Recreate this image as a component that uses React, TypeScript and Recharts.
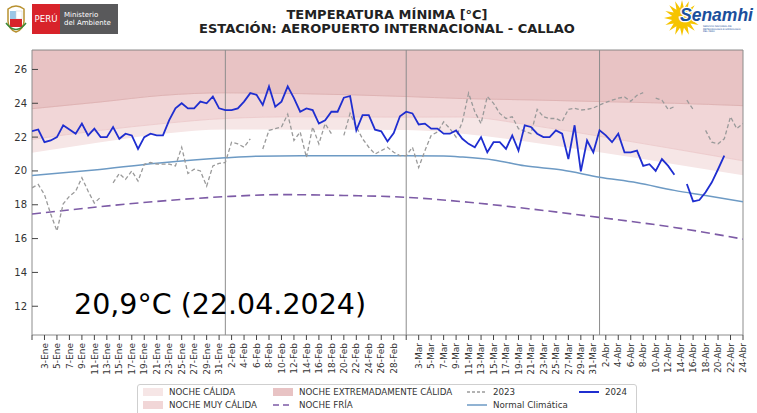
import React from 'react'
import {
  ComposedChart, Area, Line, XAxis, YAxis, ReferenceLine, ReferenceArea,
} from 'recharts'

// calendar shown on the x axis (1-Ene ... 24-Abr 2024)
const MONTHS = ['Ene', 'Feb', 'Mar', 'Abr']
const MONTH_LENGTHS = [31, 29, 31, 24]
const DAY_LABELS: string[] = MONTHS.flatMap((m, k) =>
  Array.from({ length: MONTH_LENGTHS[k] }, (_, j) => `${j + 1}-${m}`))
const DAYS = DAY_LABELS.map((_, i) => i)
const X_TICKS = DAYS.filter(i => i % 2 === 0)
const HIDDEN_TICK_LABELS = [0, 60]
const MONTH_STARTS = [31, 60, 91]

const Y_TICKS = [12, 14, 16, 18, 20, 22, 24, 26]
const Y_MIN = 10.3
const Y_MAX = 27.15

// 2024 minimum temperature
const T2024 = [
  22.35, 22.45, 21.7, 21.8, 22.0, 22.7, 22.45, 22.2, 22.8, 22.1,
  22.5, 22.0, 22.0, 22.6, 21.9, 22.2, 22.1, 21.3, 22.0, 22.2,
  22.1, 22.1, 23.0, 23.7, 24.0, 23.7, 23.7, 24.1, 24.0, 24.4,
  23.7, 23.6, 23.6, 23.7, 24.1, 24.6, 24.5, 23.9, 25.0, 23.8,
  24.1, 25.0, 24.3, 23.5, 23.7, 23.6, 22.8, 23.0, 23.5, 23.5,
  24.33, 24.43, 22.4, 23.3, 23.3, 22.44, 22.34, 21.74, 22.24, 23.23,
  23.5, 23.4, 22.75, 22.8, 22.5, 22.5, 22.2, 22.2, 22.4, 21.9,
  21.6, 21.4, 22.0, 21.1, 21.7, 21.7, 21.3, 22.1, 21.2, 22.7,
  22.6, 22.2, 22.0, 22.0, 22.4, 22.2, 20.7, 22.7, 19.97, 21.8,
  21.1, 22.4, 22.1, 21.7, 22.2, 21.1, 21.1, 21.2, 20.3, 20.4,
  20.0, 20.7, 20.3, 19.77, null, 19.23, 18.2, 18.28, 18.74, 19.33,
  20.1, 20.9, null, null, null,
]

// 2023 minimum temperature
const T2023 = [
  19.0, 19.2, 18.6, 17.45, 16.45, 18.05, 18.5, 18.8, 19.6, 18.8,
  18.1, 18.45, null, 19.3, 19.85, 19.5, 20.0, 19.4, 20.4, 20.5,
  20.4, 20.4, 20.4, 20.3, 21.4, 19.85, 20.1, 20.0, 19.1, 20.3,
  20.45, 20.5, 21.7, 21.6, 21.4, 21.9, null, 21.3, 22.4, 22.5,
  22.6, 23.35, 21.8, 22.3, 20.8, 22.6, 21.6, 22.8, 22.2, null,
  22.1, 23.4, 22.6, 21.9, 21.4, 21.0, 21.2, 21.4, 21.1, 20.9,
  20.9, 21.4, 20.2, 21.2, 22.1, 22.3, 22.9, 22.5, 22.0, 22.9,
  24.6, 23.5, 22.8, 24.4, 24.0, 23.4, 23.1, 23.2, 22.5, 22.35,
  22.2, 23.64, 23.2, 23.1, 23.1, 22.93, 23.64, 23.7, 23.6, 23.64,
  23.72, 23.9, 24.05, 24.18, 24.3, 24.37, 24.12, 24.47, 24.63, null,
  24.3, 24.18, 23.64, 23.8, null, 24.18, 23.64, null, 22.4, 21.7,
  21.6, 21.9, 23.2, 22.5, 22.8,
]

// climatological normal
const NORMAL_DAYS = [0, 10, 20, 31, 36, 45, 60, 66, 69, 74, 79, 85, 91, 97, 103, 108, 114]
const NORMAL_VALUES = [19.73, 20.06, 20.46, 20.78, 20.87, 20.9, 20.9, 20.88, 20.82, 20.65, 20.3, 20.05, 19.63, 19.3, 18.85, 18.55, 18.18]

// noche fría threshold
const FRIA_DAYS = [0, 10, 20, 31, 40, 50, 60, 70, 80, 91, 103, 114]
const FRIA_VALUES = [17.45, 17.85, 18.2, 18.48, 18.6, 18.55, 18.44, 18.15, 17.75, 17.25, 16.66, 15.97]

// warm night thresholds
const BAND_DAYS = [0, 11, 21, 31, 43, 60, 69, 80, 91, 103, 114]
const CALIDA_MIN = [21.07, 21.7, 22.2, 22.45, 22.44, 22.42, 22.2, 21.7, 21.1, 20.4, 19.75]
const MUY_CALIDA_MIN = [21.86, 22.4, 22.8, 23.1, 23.2, 23.18, 23.19, 22.7, 22.05, 21.3, 20.6]
const EXTREMA_MIN = [23.68, 24.08, 24.47, 24.62, 24.57, 24.4, 24.28, 24.2, 24.1, 24.0, 23.86]

const LAST_VALUE = '20,9°C (22.04.2024)'

const C_LIGHT = '#f6e6e6'
const C_MED = '#f1d6d7'
const C_DARK = '#e8c3c4'
const C_2024 = '#1f2ed0'
const C_2023 = '#9a9a9a'
const C_NORMAL = '#6d9ac4'
const C_FRIA = '#7d5ba6'
const FONT = 'DejaVu Sans, sans-serif'

const dailyData = DAYS.map(i => ({ d: i, y2024: T2024[i], y2023: T2023[i] }))
const normalData = NORMAL_DAYS.map((d, i) => ({ d, v: NORMAL_VALUES[i] }))
const friaData = FRIA_DAYS.map((d, i) => ({ d, v: FRIA_VALUES[i] }))
const bandData = BAND_DAYS.map((d, i) => ({
  d,
  calida: [CALIDA_MIN[i], MUY_CALIDA_MIN[i]],
  muy: [MUY_CALIDA_MIN[i], EXTREMA_MIN[i]],
  extrema: [EXTREMA_MIN[i], Y_MAX],
}))

const LEGEND = [
  { label: 'NOCHE CÁLIDA', kind: 'box', color: C_LIGHT, col: 0, row: 0 },
  { label: 'NOCHE MUY CÁLIDA', kind: 'box', color: C_MED, col: 0, row: 1 },
  { label: 'NOCHE EXTREMADAMENTE CÁLIDA', kind: 'box', color: C_DARK, col: 1, row: 0 },
  { label: 'NOCHE FRÍA', kind: 'dash', color: C_FRIA, col: 1, row: 1 },
  { label: '2023', kind: 'dot', color: C_2023, col: 2, row: 0 },
  { label: 'Normal Climática', kind: 'line', color: C_NORMAL, col: 2, row: 1 },
  { label: '2024', kind: 'line', color: C_2024, col: 3, row: 0 },
]
const LEGEND_COL_X = [143, 273, 467, 579]
const LEGEND_ROW_Y = [392, 405]

function LeftTick({ x, y, payload }: any) {
  return (
    <g>
      <line x1={x} x2={x + 6} y1={y} y2={y} stroke="#444" />
      <text x={x - 5} y={y} dy="0.35em" textAnchor="end" fontSize={10} fill="#333" fontFamily={FONT}>
        {payload.value}
      </text>
    </g>
  )
}

function RightTick({ x, y }: any) {
  return <line x1={x - 6} x2={x} y1={y} y2={y} stroke="#444" />
}

function DayTick({ x, y, payload }: any) {
  const label = HIDDEN_TICK_LABELS.includes(payload.value) ? '' : DAY_LABELS[payload.value]
  return (
    <text x={x} y={y} transform={`rotate(-90, ${x}, ${y})`} textAnchor="end" dy="0.35em"
      fontSize={9} fill="#333" fontFamily={FONT}>
      {label}
    </text>
  )
}

function Swatch({ kind, color }: { kind: string; color: string }) {
  if (kind === 'box') return <svg width={20} height={8}><rect width={20} height={8} fill={color} /></svg>
  const dash = kind === 'dash' ? '6 4' : kind === 'dot' ? '3 2' : undefined
  return (
    <svg width={20} height={8}>
      <line x1={0} x2={20} y1={4} y2={4} stroke={color} strokeWidth={kind === 'line' && color === C_2024 ? 2 : 1.5} strokeDasharray={dash} />
    </svg>
  )
}

function SunLogo() {
  const rays = Array.from({ length: 32 }, (_, k) => {
    const a = (Math.PI * k) / 16
    const r = k % 2 === 0 ? 18 : 10
    return `${19 + r * Math.cos(a)},${18 + r * Math.sin(a)}`
  }).join(' ')
  return (
    <svg width={92} height={38} style={{ position: 'absolute', left: 663, top: 0 }}>
      <polygon points={rays} fill="#f6c400" />
      <text x={17} y={20.5} fontSize={17.5} fontWeight="bold" fontStyle="italic" fill="#1b4f9c"
        fontFamily="Liberation Sans, sans-serif" stroke="#fff" strokeWidth={2.5} paintOrder="stroke">Senamhi</text>
      <text x={40} y={27.2} fontSize={2.4} fill="#1b4f9c" fontFamily={FONT}>SERVICIO NACIONAL DE</text>
      <text x={40} y={29.8} fontSize={2.4} fill="#1b4f9c" fontFamily={FONT}>METEOROLOGÍA E HIDROLOGÍA</text>
      <text x={40} y={32.4} fontSize={2.4} fill="#1b4f9c" fontFamily={FONT}>DEL PERÚ</text>
    </svg>
  )
}

function MinamLogo() {
  return (
    <>
      <svg width={24} height={32} style={{ position: 'absolute', left: 4, top: 3 }}>
        <path d="M4 6 Q12 0 20 6 L20 18 Q20 26 12 29 Q4 26 4 18 Z" fill="#fff" stroke="#b8912f" strokeWidth={1.5} />
        <rect x={6} y={8} width={6} height={8} fill="#9bc7e6" />
        <rect x={12} y={8} width={6} height={8} fill="#fff" stroke="#ccc" strokeWidth={0.5} />
        <rect x={6} y={16} width={12} height={8} fill="#d8232a" />
        <path d="M2 20 Q12 33 22 20" fill="none" stroke="#3a8a3a" strokeWidth={1.5} />
      </svg>
      <div style={{
        position: 'absolute', left: 32, top: 4, width: 28, height: 30, background: '#d8232a',
        color: '#fff', fontFamily: FONT, fontSize: 8.6, lineHeight: '30px', textAlign: 'center',
      }}>PERÚ</div>
      <div style={{
        position: 'absolute', left: 60, top: 4, width: 58, height: 30, background: '#59595b',
        color: '#fff', fontFamily: FONT, fontSize: 7, lineHeight: '8px', paddingLeft: 4,
        paddingTop: 7, boxSizing: 'border-box',
      }}>Ministerio<br />del Ambiente</div>
    </>
  )
}

export default function App() {
  return (
    <div style={{ position: 'absolute', left: 0, top: 0, width: 757, height: 413, overflow: 'hidden', background: '#fff' }}>
      <ComposedChart width={757} height={413} data={dailyData} margin={{ top: 50, right: 14, bottom: 0, left: 0 }}>
        <XAxis
          type="number" dataKey="d" domain={[0, 114]} ticks={X_TICKS} interval={0}
          allowDataOverflow axisLine={false} tickLine={{ stroke: '#444' }} tickSize={5} tickMargin={3}
          height={78} tick={(p: any) => <DayTick {...p} />}
        />
        <YAxis
          domain={[Y_MIN, Y_MAX]} ticks={Y_TICKS} interval={0} allowDataOverflow width={32}
          axisLine={false} tickLine={false} tickSize={0} tickMargin={0}
          tick={(p: any) => <LeftTick {...p} />}
        />
        <YAxis
          yAxisId="right" orientation="right" domain={[Y_MIN, Y_MAX]} ticks={Y_TICKS} interval={0}
          allowDataOverflow width={0} axisLine={false} tickLine={false} tickSize={0} tickMargin={0}
          tick={(p: any) => <RightTick {...p} />}
        />

        <Area data={bandData} dataKey="calida" type="monotone" fill={C_LIGHT} fillOpacity={1} stroke="none" isAnimationActive={false} />
        <Area data={bandData} dataKey="muy" type="monotone" fill={C_MED} fillOpacity={1} stroke="#ebc7c8" strokeWidth={0.8} isAnimationActive={false} />
        <Area data={bandData} dataKey="extrema" type="monotone" fill={C_DARK} fillOpacity={1} stroke="#dcaeaf" strokeWidth={0.8} isAnimationActive={false} />

        {MONTH_STARTS.map(d => (
          <ReferenceLine key={d} x={d} stroke="#8c8c8c" strokeWidth={1} />
        ))}

        <Line data={normalData} dataKey="v" type="monotone" stroke={C_NORMAL} strokeWidth={1.5} dot={false} isAnimationActive={false} />
        <Line data={friaData} dataKey="v" type="monotone" stroke={C_FRIA} strokeWidth={1.6} strokeDasharray="9 5" dot={false} isAnimationActive={false} />
        <Line dataKey="y2023" type="linear" stroke={C_2023} strokeWidth={1.3} strokeDasharray="4 2.5" dot={false} isAnimationActive={false} />
        <Line dataKey="y2024" type="linear" stroke={C_2024} strokeWidth={1.8} dot={false} isAnimationActive={false} />

        <ReferenceArea x1={0} x2={114} y1={Y_MIN} y2={Y_MAX} fill="none" fillOpacity={0} stroke="#8c8c8c" strokeWidth={1} ifOverflow="visible" />
      </ComposedChart>

      <MinamLogo />
      <SunLogo />

      <div style={{
        position: 'absolute', left: 187, top: 8, width: 400, textAlign: 'center',
        fontFamily: FONT, fontWeight: 'bold', fontSize: 13, lineHeight: '14px', color: '#222',
        whiteSpace: 'nowrap',
      }}>
        TEMPERATURA MÍNIMA [°C]<br />ESTACIÓN: AEROPUERTO INTERNACIONAL - CALLAO
      </div>

      <div style={{
        position: 'absolute', left: 74, top: 291, fontFamily: FONT, fontSize: 28.5,
        lineHeight: '28.5px', color: '#000', whiteSpace: 'nowrap',
      }}>{LAST_VALUE}</div>

      <div style={{
        position: 'absolute', left: 137, top: 384, width: 500, height: 40,
        border: '1px solid #cfcfcf', borderRadius: 3, boxSizing: 'border-box', background: '#fff',
      }} />
      {LEGEND.map(item => (
        <div key={item.label} style={{
          position: 'absolute', left: LEGEND_COL_X[item.col], top: LEGEND_ROW_Y[item.row] - 5,
          height: 10, display: 'flex', alignItems: 'center', gap: 6, whiteSpace: 'nowrap',
          fontFamily: FONT, fontSize: 8.7, color: '#333',
        }}>
          <Swatch kind={item.kind} color={item.color} />
          <span>{item.label}</span>
        </div>
      ))}
    </div>
  )
}
